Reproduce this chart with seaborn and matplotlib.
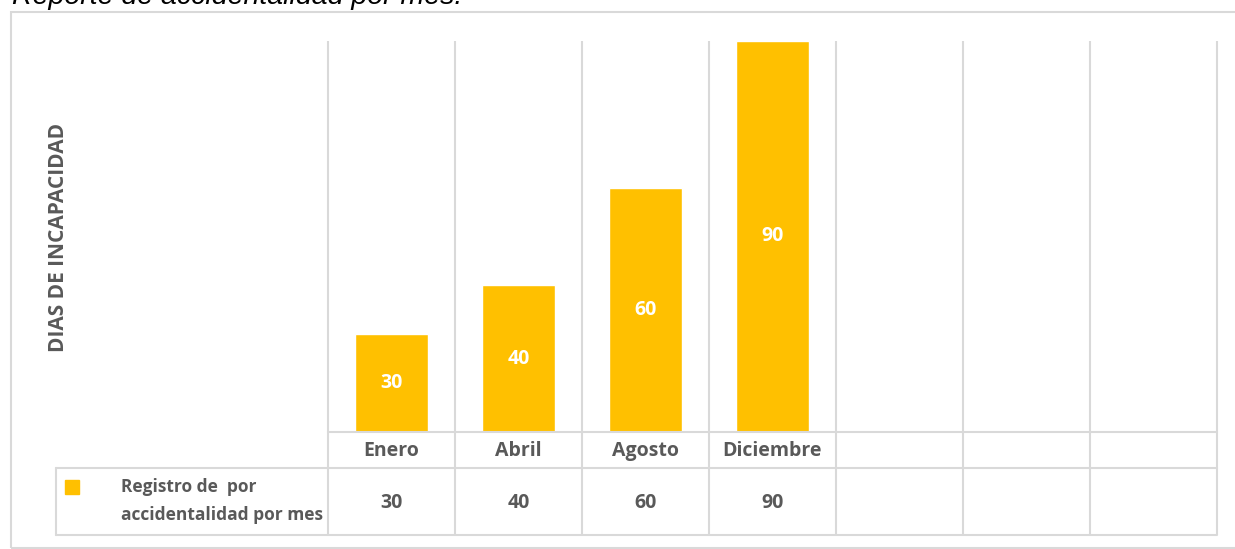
import matplotlib
matplotlib.use("Agg")
import matplotlib.pyplot as plt
import matplotlib.transforms as mtransforms
from matplotlib.patches import Rectangle
import numpy as np
import pandas as pd
import seaborn as sns

# data
MESES = ["Enero", "Abril", "Agosto", "Diciembre"]
DIAS = [30, 40, 60, 90]
N_COLUMNAS = 7          # the Excel table keeps 3 empty columns on the right
Y_MIN, Y_MAX = 10, 90
SERIE = "Registro de  por\naccidentalidad por mes"
TITULO = "Reporte de accidentalidad por mes."
Y_LABEL = "DIAS DE INCAPACIDAD"

AMARILLO = "#FFC000"
GRIS_TXT = "#595959"
GRIS_LIN = "#D9D9D9"
FS = 14

W, H = 1235, 549

sns.set_theme(style="white")
plt.rcParams["font.family"] = ["Open Sans", "DejaVu Sans"]

fig = plt.figure(figsize=(W / 100, H / 100), dpi=100)
fig.patch.set_facecolor("white")

# plot area in pixels: x 328..1217, y 41..432
ax = fig.add_axes([328 / W, 1 - 432 / H, (1217 - 328) / W, (432 - 41) / H])

df = pd.DataFrame({"mes": MESES, "dias": DIAS})
sns.barplot(data=df, x="mes", y="dias", order=MESES, color=AMARILLO,
            saturation=1, width=0.57, ax=ax)
ax.set_xlim(-0.5, N_COLUMNAS - 0.5)
ax.set_ylim(Y_MIN, Y_MAX)
sns.despine(ax=ax, left=True, bottom=True)
ax.set_xticks([])
ax.set_yticks([])
ax.set_xlabel("")
ax.set_ylabel(Y_LABEL, fontsize=15, fontweight="bold", color=GRIS_TXT)
ax.yaxis.set_label_coords((69 - 328) / 889, (432 - 237) / 391)

# value labels, centred in the visible part of each bar
for i, v in enumerate(DIAS):
    ax.text(i, (Y_MIN + v) / 2, f"{v}", ha="center", va="center",
            color="white", fontsize=FS, fontweight="bold")

# data table under the chart
blend = mtransforms.blended_transform_factory(ax.transData, ax.transAxes)
y_cat = (432 - 456) / 391
y_val = (432 - 508) / 391
y_mid = (432 - 468) / 391
y_bot = (432 - 535) / 391
x_leg = (56 - 328) / 889

for i, mes in enumerate(MESES):
    ax.text(i, y_cat, mes, transform=blend, ha="center", va="baseline",
            color=GRIS_TXT, fontsize=FS, fontweight="bold")
    ax.text(i, y_val, f"{DIAS[i]}", transform=blend, ha="center",
            va="baseline", color=GRIS_TXT, fontsize=FS, fontweight="bold")

lw = 1.5
ax.vlines(np.arange(N_COLUMNAS + 1) - 0.5, y_bot, 1, transform=blend,
          color=GRIS_LIN, lw=lw, clip_on=False, zorder=0)
ax.plot([-0.5, N_COLUMNAS - 0.5], [0, 0], transform=blend,
        color=GRIS_LIN, lw=lw, clip_on=False)
for yy in (y_mid, y_bot):
    ax.plot([x_leg, 1], [yy, yy], transform=ax.transAxes,
            color=GRIS_LIN, lw=lw, clip_on=False)
ax.plot([x_leg, x_leg], [y_mid, y_bot], transform=ax.transAxes,
        color=GRIS_LIN, lw=lw, clip_on=False)

# legend key + series name in the first table cell
ax.add_patch(Rectangle(((65 - 328) / 889, (432 - 494) / 391), 14 / 889,
                       14 / 391, transform=ax.transAxes, color=AMARILLO,
                       clip_on=False))
ax.text((121 - 328) / 889, (432 - 501) / 391, SERIE, transform=ax.transAxes,
        ha="left", va="center", color=GRIS_TXT, fontsize=12.5,
        fontweight="bold", linespacing=1.7)

# outer chart frame (right edge runs off the picture)
fig.add_artist(Rectangle((11 / W, 1 - 548 / H), 1.1, (548 - 12) / H,
                         transform=fig.transFigure, fill=False,
                         edgecolor=GRIS_LIN, lw=1.5))

# caption, cut off at the top like in the source
fig.text(12 / W, 1 - 4 / H, TITULO, ha="left", va="baseline",
         style="italic", fontsize=20.5, family="Liberation Sans",
         color="black")

fig.savefig("out.png", dpi=100)
